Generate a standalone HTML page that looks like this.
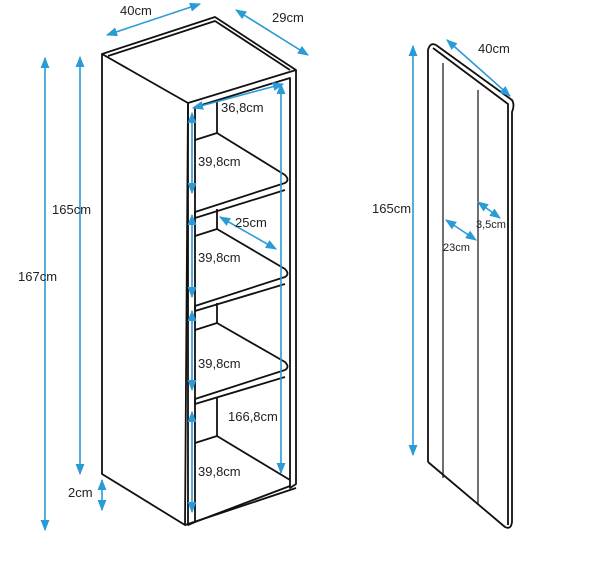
<!DOCTYPE html>
<html><head><style>
body{margin:0;background:#fff;width:600px;height:570px;overflow:hidden}
text{font-family:"Liberation Sans",sans-serif;font-size:13px;fill:#222}
</style></head><body>
<svg width="600" height="570" viewBox="0 0 600 570">
<defs>
<marker id="a" viewBox="0 0 10 10" refX="9" refY="5" markerWidth="7" markerHeight="7" orient="auto-start-reverse"><path d="M0,1 L10,5 L0,9 z" fill="#2a9bd4"/></marker>
</defs>
<g fill="none" stroke="#111" stroke-width="1.8" stroke-linejoin="round">
<path d="M102,54 L215,17 L296,70 L188,103 Z"/>
<path d="M108,56 L215,21 L290,70"/>
<path d="M102,54 L102,474 L185,525 L188,103"/>
<path d="M188,103 L188,525 L195,522 L195,107 L290,78 L290,488 L296,484 L296,70"/>
<path d="M185,525 L296,488"/>
<path d="M195,522 L290,486"/>
<path d="M217,100 L217,133"/>
<path d="M217,209 L217,229"/>
<path d="M217,303 L217,323"/>
<path d="M217,397 L217,436"/>
<path d="M195,140 L217,133 L285,175 Q290,180 285,183 L195,212 L195,218 L285,190"/>
<path d="M195,236 L217,229 L285,269 Q290,274 285,277 L195,306 L195,311 L285,284"/>
<path d="M195,330 L217,323 L285,362 Q290,367 285,370 L195,399 L195,404 L285,377"/>
<path d="M195,443 L217,436 L290,480"/>
<path d="M428,462 L428,50 Q430,42 436,45 L512,100 Q515,105 512,112 L512,522 Q511,530 505,527 L428,462"/>
<path d="M433,48 L508,104 L508,525"/>
<path d="M443,63 L443,478" stroke-width="1.2"/>
<path d="M478,90 L478,505" stroke-width="1.2"/>
</g>
<g stroke="#2a9bd4" stroke-width="1.6" fill="none" marker-start="url(#a)" marker-end="url(#a)">
<path d="M107,35 L200,4"/>
<path d="M236,10 L308,55"/>
<path d="M80,57 L80,474"/>
<path d="M45,58 L45,530"/>
<path d="M102,480 L102,510"/>
<path d="M193,108 L283,84"/>
<path d="M281,84 L281,473"/>
<path d="M192,113 L192,193"/>
<path d="M192,215 L192,297"/>
<path d="M192,311 L192,390"/>
<path d="M192,412 L192,512"/>
<path d="M220,217 L276,249"/>
<path d="M413,46 L413,455"/>
<path d="M447,40 L510,96"/>
<path d="M478,202 L500,218"/>
<path d="M446,220 L476,240"/>
</g>
<text x="120" y="15">40cm</text>
<text x="272" y="22">29cm</text>
<text x="221" y="112">36,8cm</text>
<text x="198" y="166">39,8cm</text>
<text x="235" y="227">25cm</text>
<text x="198" y="262">39,8cm</text>
<text x="198" y="368">39,8cm</text>
<text x="228" y="421">166,8cm</text>
<text x="198" y="476">39,8cm</text>
<text x="52" y="214">165cm</text>
<text x="18" y="281">167cm</text>
<text x="68" y="497">2cm</text>
<text x="372" y="213">165cm</text>
<text x="478" y="53">40cm</text>
<text x="476" y="228" style="font-size:11px">3,5cm</text>
<text x="443" y="251" style="font-size:11px">23cm</text>
</svg>
</body></html>
